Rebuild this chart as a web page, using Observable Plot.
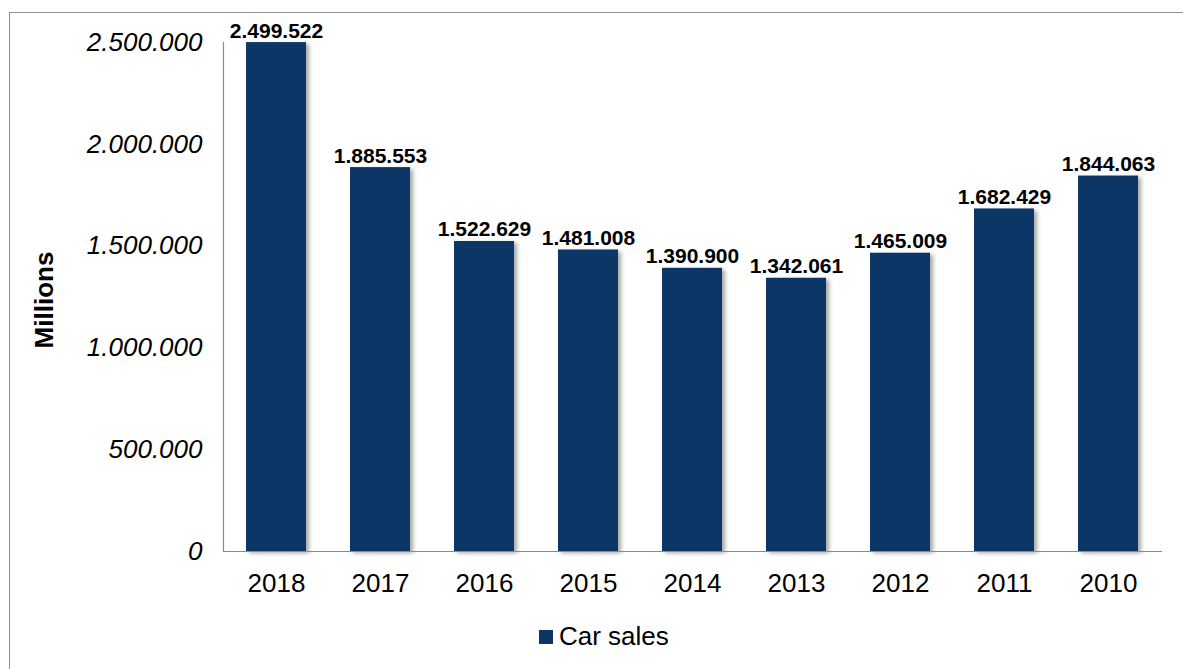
<!DOCTYPE html>
<html>
<head>
<meta charset="utf-8">
<script src="https://cdn.jsdelivr.net/npm/d3@7"></script>
<script src="https://cdn.jsdelivr.net/npm/@observablehq/plot@0.6"></script>
<style>
  html, body { margin: 0; padding: 0; background: #fff; overflow: hidden; width: 1183px; height: 669px; }
  body { position: relative; font-family: "Liberation Sans", Arial, sans-serif; }
  #border { position: absolute; left: 9px; top: 12px; width: 2000px; height: 2000px; border: 1px solid #8f8f8f; border-right: none; border-bottom: none; }
  #chart { position: absolute; left: 0; top: 0; width: 1183px; }
  #chart svg { background: transparent; overflow: visible; max-width: none; }
  #chart g[aria-label="bar"] { filter: drop-shadow(3px 2px 2px rgba(0,0,0,0.35)); }
  #ylabel { position: absolute; left: 44px; top: 300px; transform: translate(-50%, -50%) rotate(-90deg); font: bold 26px "Liberation Sans", Arial, sans-serif; white-space: nowrap; color: #000; }
  #legend { position: absolute; left: 539px; top: 621px; display: flex; align-items: center; font: 26px "Liberation Sans", Arial, sans-serif; color: #000; white-space: nowrap; }
  #legend .sw { width: 14px; height: 14px; background: #0b3665; margin-right: 6px; }
</style>
</head>
<body>
<div id="border"></div>
<div id="chart"></div>
<div id="ylabel">Millions</div>
<div id="legend"><span class="sw"></span><span id="legendText"></span></div>
<script>
const years = ["2018", "2017", "2016", "2015", "2014", "2013", "2012", "2011", "2010"];
const carSales = [2499522, 1885553, 1522629, 1481008, 1390900, 1342061, 1465009, 1682429, 1844063];
const yTicks = [0, 500000, 1000000, 1500000, 2000000, 2500000];
const seriesName = "Car sales";

const loc = d3.formatLocale({decimal: ",", thousands: ".", grouping: [3], currency: ["", ""]});
const fmt = loc.format(",d");

const data = years.map((y, i) => ({year: y, value: carSales[i]}));
const barColor = "#0b3665";
const axisColor = "#8a8a8a";

document.getElementById("legendText").textContent = seriesName;

const chart = Plot.plot({
  width: 1183,
  height: 600,
  marginLeft: 223,
  marginRight: 21,
  marginTop: 42,
  marginBottom: 49,
  style: {fontFamily: "'Liberation Sans', Arial, sans-serif", background: "transparent", color: "#000"},
  x: {domain: years, paddingInner: 0.42, paddingOuter: 0.21, label: null},
  y: {domain: [0, 2500000], label: null},
  marks: [
    Plot.barY(data, {x: "year", y: "value", fill: barColor}),
    Plot.text(data, {x: "year", y: "value", text: d => fmt(d.value), lineAnchor: "bottom", dy: -5, fontSize: 21, fontWeight: "bold", fill: "#000"}),
    Plot.axisY({ticks: yTicks, tickFormat: fmt, tickSize: 0, tickPadding: 21, fontSize: 26, fontStyle: "italic", label: null}),
    Plot.axisX({tickSize: 0, tickPadding: 22, fontSize: 26, label: null}),
    Plot.frame({anchor: "left", stroke: axisColor, strokeWidth: 1.2}),
    Plot.ruleY([0], {stroke: axisColor, strokeWidth: 1.2})
  ]
});
document.getElementById("chart").appendChild(chart);
</script>
</body>
</html>
